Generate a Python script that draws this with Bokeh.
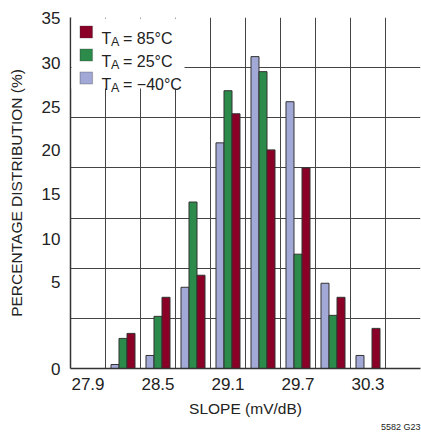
from bokeh.plotting import figure
from bokeh.models import ColumnDataSource, FixedTicker, BoxAnnotation, Label, Title
from bokeh.transform import dodge
from bokeh.embed import file_html
from bokeh.resources import INLINE

# ---------------- data ----------------
slope_bins = [27.9, 28.2, 28.5, 28.8, 29.1, 29.4, 29.7, 30.0, 30.3, 30.6]
pct_85 = [0, 3.5, 7.1, 9.3, 25.4, 21.8, 20.0, 7.1, 4.0, 0]
pct_25 = [0, 3.0, 5.2, 16.6, 27.7, 29.6, 11.4, 5.3, 0, 0]
pct_m40 = [0, 0.4, 1.3, 8.1, 22.5, 31.1, 26.6, 8.5, 1.3, 0]
x_tick_values = [27.9, 28.5, 29.1, 29.7, 30.3]
x_tick_labels = ["27.9", "28.5", "29.1", "29.7", "30.3"]
y_tick_values = [0, 5, 10, 15, 20, 25, 30, 35]
y_tick_labels = ["0", "5", "10", "15", "20", "25", "30", "35"]
series_names = ["85°C", "25°C", "\u221240°C"]

# ---------------- layout constants ----------------
BIN_W = 0.3
FRAME_W, FRAME_H = 350, 351
X0 = slope_bins[0] - BIN_W / 2
X1 = slope_bins[-1] + BIN_W / 2
Y0, Y1 = 0, 35
PX_PER_X = FRAME_W / (X1 - X0)
PX_PER_Y = FRAME_H / (Y1 - Y0)
BAR_W = 0.0686
# where the reference prints its y labels (slightly offset from the grid)
y_label_pos = [0, 8.6, 12.95, 17.45, 21.75, 26.1, 30.45, 35]

C_85 = "#8a0026"
C_25 = "#2c8a4b"
C_M40 = "#a3a9d6"
EDGE = "#333333"
GRID = "#444444"
FONT = "Liberation Sans"


def sx(px):
    return X0 + px / PX_PER_X


def sy(px):
    return Y1 - px / PX_PER_Y


p = figure(width=421, height=434,
           x_range=(X0, X1), y_range=(Y0, Y1),
           output_backend="svg", toolbar_location=None,
           min_border_left=70, min_border_right=1,
           min_border_top=17, min_border_bottom=66)
p.outline_line_color = None
p.background_fill_color = "white"
p.border_fill_color = "white"


def src(vals):
    xs = [b for b, v in zip(slope_bins, vals) if v > 0]
    ys = [v for v in vals if v > 0]
    return ColumnDataSource(dict(x=xs, top=ys))


p.vbar(x=dodge("x", -BAR_W, range=p.x_range), top="top", width=BAR_W,
       source=src(pct_m40), fill_color=C_M40, line_color=EDGE, line_width=1)
p.vbar(x=dodge("x", 0, range=p.x_range), top="top", width=BAR_W,
       source=src(pct_25), fill_color=C_25, line_color=EDGE, line_width=1)
p.vbar(x=dodge("x", BAR_W, range=p.x_range), top="top", width=BAR_W,
       source=src(pct_85), fill_color=C_85, line_color=EDGE, line_width=1)

# grids (last bin edge is the cropped right side of the reference: no line there)
p.xgrid.ticker = FixedTicker(ticks=[b - BIN_W / 2 for b in slope_bins])
p.ygrid.ticker = FixedTicker(ticks=y_tick_values)
for g in (p.xgrid, p.ygrid):
    g.grid_line_color = GRID
    g.grid_line_width = 1
    g.grid_line_alpha = 1

# x axis
p.xaxis.ticker = FixedTicker(ticks=x_tick_values)
p.xaxis.major_label_overrides = {v: l for v, l in zip(x_tick_values, x_tick_labels)}
p.xaxis.axis_label = "SLOPE (mV/dB)"
# y axis
p.yaxis.ticker = FixedTicker(ticks=y_label_pos)
p.yaxis.major_label_overrides = {v: l for v, l in zip(y_label_pos, y_tick_labels)}
p.yaxis.axis_label = "PERCENTAGE DISTRIBUTION (%)"

for ax in (p.xaxis[0], p.yaxis[0]):
    ax.major_tick_line_color = None
    ax.minor_tick_line_color = None
    ax.major_tick_in = 0
    ax.major_tick_out = 0
    ax.axis_line_color = EDGE
    ax.axis_line_width = 1.5
    ax.major_label_text_font = FONT
    ax.major_label_text_font_size = "17px"
    ax.major_label_text_color = "#222222"
    ax.axis_label_text_font = FONT
    ax.axis_label_text_font_size = "15.5px"
    ax.axis_label_text_font_style = "normal"
    ax.axis_label_text_color = "#222222"

p.xaxis.major_label_standoff = 9
p.xaxis.axis_label_standoff = 7
p.yaxis.major_label_standoff = 10
p.yaxis.axis_label_standoff = 14

# figure code at bottom right
p.add_layout(Title(text="5582 G23", align="right", text_font=FONT,
                   text_font_size="9px", text_font_style="normal",
                   text_color="#222222", standoff=0, offset=0), "below")

# legend (drawn by hand to get subscript "A")
p.add_layout(BoxAnnotation(left=sx(1), right=sx(114), top=sy(1), bottom=sy(71),
                           fill_color="white", fill_alpha=1, line_color=None))
legend_colors = [C_85, C_25, C_M40]
for i, (name, col) in enumerate(zip(series_names, legend_colors)):
    base = 20.5 + 23 * i
    p.add_layout(BoxAnnotation(left=sx(9.5), right=sx(22), top=sy(base - 12), bottom=sy(base),
                               fill_color=col, fill_alpha=1, line_color=EDGE, line_width=1.2))
    p.add_layout(Label(x=sx(31), y=sy(base), text="T", text_font=FONT,
                       text_font_size="16px", text_color="#222222",
                       text_baseline="alphabetic", text_align="left"))
    p.add_layout(Label(x=sx(40.5), y=sy(base + 4.4), text="A", text_font=FONT,
                       text_font_size="12.5px", text_color="#222222",
                       text_baseline="alphabetic", text_align="left"))
    p.add_layout(Label(x=sx(52.5), y=sy(base), text="= " + name, text_font=FONT,
                       text_font_size="16px", text_color="#222222",
                       text_baseline="alphabetic", text_align="left"))

open("out.html", "w").write(file_html(p, INLINE))
